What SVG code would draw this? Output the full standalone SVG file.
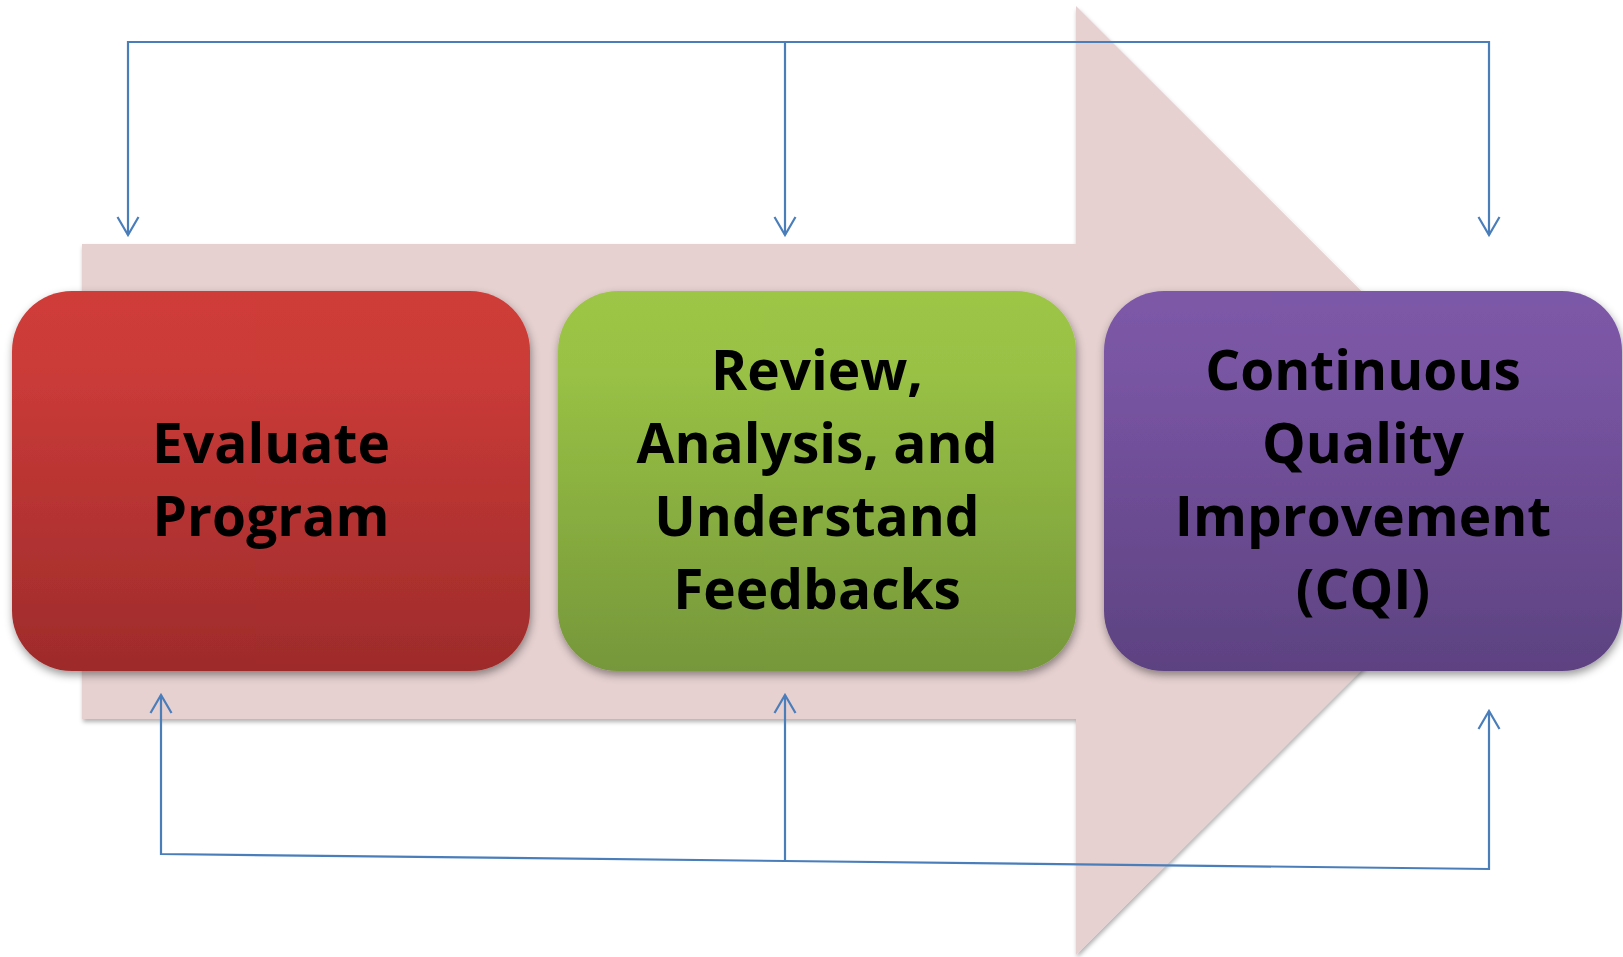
<svg xmlns="http://www.w3.org/2000/svg" width="1623" height="957" viewBox="0 0 1623 957">
<defs>
<style>
.lbl{font-family:"Open Sans","Noto Sans","Liberation Sans",sans-serif;font-weight:700;font-size:55px;fill:#000;text-anchor:middle}
.con{fill:none;stroke:#4A7EBB;stroke-width:2.2}
</style>
<linearGradient id="gRed" x1="0" y1="0" x2="0" y2="1">
<stop offset="0" stop-color="#CF3C38"/><stop offset="0.2" stop-color="#CB3B38"/><stop offset="1" stop-color="#9E2B2B"/>
</linearGradient>
<linearGradient id="gGreen" x1="0" y1="0" x2="0" y2="1">
<stop offset="0" stop-color="#9DC646"/><stop offset="0.2" stop-color="#99C245"/><stop offset="1" stop-color="#76973A"/>
</linearGradient>
<linearGradient id="gPurple" x1="0" y1="0" x2="0" y2="1">
<stop offset="0" stop-color="#7C59A8"/><stop offset="0.2" stop-color="#7955A3"/><stop offset="1" stop-color="#5D4281"/>
</linearGradient>
<filter id="shBox" x="-10%" y="-10%" width="120%" height="125%">
<feDropShadow dx="1" dy="4" stdDeviation="4" flood-color="#000" flood-opacity="0.4"/>
</filter>
<filter id="shArrow" x="-5%" y="-5%" width="110%" height="110%">
<feDropShadow dx="1" dy="3" stdDeviation="2" flood-color="#000" flood-opacity="0.3"/>
</filter>
<marker id="ah" viewBox="-20 -12 22 24" refX="0" refY="0" markerWidth="22" markerHeight="24" markerUnits="userSpaceOnUse" orient="auto">
<path d="M-18,-10.5 L0,0 L-18,10.5" fill="none" stroke="#4A7EBB" stroke-width="2.2"/>
</marker>
</defs>
<rect width="1623" height="957" fill="#fff"/>
<g id="bigArrow">
<path d="M82,244 H1076 V6 L1551,480.5 L1076,955 V719 H82 Z" fill="#E6D0D0" filter="url(#shArrow)"/>
</g>
<g id="connectors">
<path class="con" d="M785,42 H128 V235" marker-end="url(#ah)"/>
<path class="con" d="M785,42 V235" marker-end="url(#ah)"/>
<path class="con" d="M785,42 H1489 V235" marker-end="url(#ah)"/>
<path class="con" d="M785,861 L161,854 V695" marker-end="url(#ah)"/>
<path class="con" d="M785,861 V695" marker-end="url(#ah)"/>
<path class="con" d="M785,861 L1489,869 V711" marker-end="url(#ah)"/>
</g>
<g id="evaluate">
<rect x="12" y="291" width="518" height="380" rx="60" ry="60" fill="url(#gRed)" filter="url(#shBox)"/>
<text class="lbl" x="271" y="463">Evaluate</text>
<text class="lbl" x="271" y="536">Program</text>
</g>
<g id="review">
<rect x="558" y="291" width="518" height="380" rx="60" ry="60" fill="url(#gGreen)" filter="url(#shBox)"/>
<text class="lbl" x="817" y="390">Review,</text>
<text class="lbl" x="817" y="463">Analysis, and</text>
<text class="lbl" x="817" y="536">Understand</text>
<text class="lbl" x="817" y="609">Feedbacks</text>
</g>
<g id="cqi">
<rect x="1104" y="291" width="518" height="380" rx="60" ry="60" fill="url(#gPurple)" filter="url(#shBox)"/>
<text class="lbl" x="1363" y="390">Continuous</text>
<text class="lbl" x="1363" y="463">Quality</text>
<text class="lbl" x="1363" y="536">Improvement</text>
<text class="lbl" x="1363" y="609">(CQI)</text>
</g>
</svg>
